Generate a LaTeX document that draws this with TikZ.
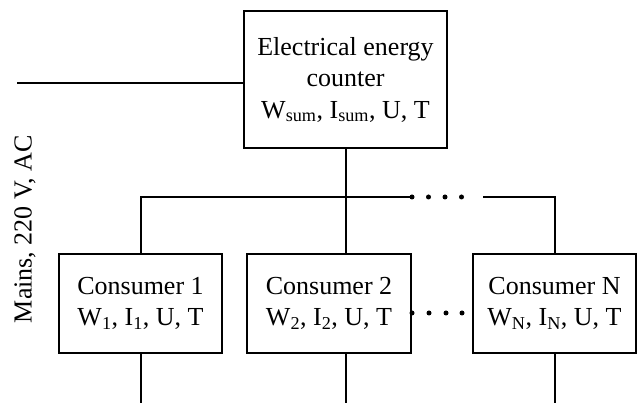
\documentclass[tikz,border=0pt]{standalone}
\usepackage{fontspec}
\setmainfont{Liberation Serif}
\begin{document}
\begin{tikzpicture}[x=1pt,y=-1pt,line width=2pt,
  box/.style={draw,line width=2pt,inner sep=0pt,align=center,font=\fontsize{26}{31.5}\selectfont},
  dotm/.style={fill,circle,inner sep=0pt,minimum size=5pt}]
\useasboundingbox (0,0) rectangle (638,403);
\node[box,minimum width=203pt,minimum height=137pt] (top) at (345.5,79.5)
  {Electrical energy\\counter\\W\textsubscript{sum}, I\textsubscript{sum}, U, T};
\node[box,minimum width=163pt,minimum height=99pt] (c1) at (140.5,303.5)
  {Consumer 1\\W\textsubscript{1}, I\textsubscript{1}, U, T};
\node[box,minimum width=164pt,minimum height=99pt] (c2) at (329,303.5)
  {Consumer 2\\W\textsubscript{2}, I\textsubscript{2}, U, T};
\node[box,minimum width=163pt,minimum height=99pt] (cN) at (554.5,303.5)
  {Consumer N\\W\textsubscript{N}, I\textsubscript{N}, U, T};
\node[rotate=90,font=\fontsize{26}{31}\selectfont] (mains) at (25,229) {Mains, 220 V, AC};
% mains line
\coordinate (m) at (17,83);
\draw (m) -- (m -| top.west);
% bus
\coordinate (bl) at (412,197);
\coordinate (br) at (483,197);
\draw (c1.north) |- (bl);
\draw (cN.north) |- (br);
\draw (top.south) -- (top.south |- c2.north);
\node[dotm] (d1) at (412,197) {};
\node[dotm] (d2) at (428.5,197) {};
\node[dotm] (d3) at (445,197) {};
\node[dotm] (d4) at (461.5,197) {};
% dots between consumers
\node[dotm] (e1) at (412,313) {};
\node[dotm] (e2) at (429,313) {};
\node[dotm] (e3) at (446,313) {};
\node[dotm] (e4) at (462,313) {};
% outgoing lines
\coordinate (o1) at (c1.south |- 0,403);
\coordinate (o2) at (top.south |- 0,403);
\coordinate (oN) at (cN.south |- 0,403);
\draw (c1.south) -- (o1);
\draw (top.south |- c2.south) -- (o2);
\draw (cN.south) -- (oN);
\end{tikzpicture}
\end{document}
